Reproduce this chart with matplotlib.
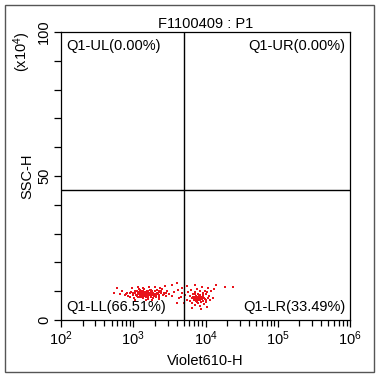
import matplotlib
matplotlib.use("Agg")
import matplotlib.pyplot as plt
from matplotlib.patches import Rectangle
from matplotlib.ticker import LogLocator, FixedLocator, NullFormatter, FixedFormatter

plt.rcParams['font.family'] = ['Liberation Sans', 'DejaVu Sans']
plt.rcParams['mathtext.fontset'] = 'custom'
plt.rcParams['mathtext.rm'] = 'Liberation Sans'
plt.rcParams['mathtext.it'] = 'Liberation Sans'

title = "F1100409 : P1"
x_label = "Violet610-H"
y_label = "SSC-H"
gate_x = 5000
gate_y = 45
quad_labels = ["Q1-UL(0.00%)", "Q1-UR(0.00%)", "Q1-LL(66.51%)", "Q1-LR(33.49%)"]

# Events: log10(Violet610-H), SSC-H (x10^4)
ll_logx = [2.88, 2.92, 2.95, 2.97, 3.00, 3.01, 3.03, 3.04, 3.05, 3.06,
           3.07, 3.08, 3.09, 3.10, 3.10, 3.11, 3.12, 3.13, 3.13, 3.14,
           3.15, 3.15, 3.16, 3.17, 3.17, 3.18, 3.19, 3.19, 3.20, 3.21,
           3.21, 3.22, 3.23, 3.23, 3.24, 3.25, 3.25, 3.26, 3.27, 3.28,
           3.28, 3.29, 3.30, 3.31, 3.32, 3.33, 3.34, 3.35, 3.36, 3.38,
           3.40, 3.41, 3.43, 3.45, 3.47, 3.50, 3.53, 3.56,
           2.82, 2.85, 2.98, 3.06, 3.14, 3.22, 3.30, 3.37, 3.44, 3.02, 3.18, 3.26, 3.35,
           3.12, 3.14, 3.16, 3.18, 3.20, 3.22, 3.24, 3.15, 3.19, 3.23, 3.27, 3.11, 3.17,
           2.90, 2.93, 2.96, 2.99, 3.02, 3.04, 3.07, 3.09, 3.11, 3.13, 3.16, 3.18, 3.20,
           3.24, 3.26, 3.29, 3.31, 3.33, 3.36, 3.39, 3.42, 3.46, 3.08, 3.12, 3.21, 3.25,
           3.05, 3.10, 3.15, 3.20, 3.25, 3.30, 3.00, 3.35, 3.14, 3.19,
           2.74, 2.78, 3.60, 3.62, 3.66, 3.54, 3.68]
ll_y = [8.6, 9.3, 8.1, 9.8, 8.9, 7.6, 9.5, 10.2, 8.4, 9.0,
        7.9, 9.7, 8.7, 10.4, 9.2, 8.2, 9.9, 8.8, 7.5, 9.4,
        10.8, 8.5, 9.1, 7.9, 9.7, 8.9, 10.1, 8.3, 9.5, 8.7,
        7.4, 9.2, 10.5, 8.6, 9.8, 8.1, 9.0, 10.0, 8.8, 9.4,
        7.7, 8.5, 9.9, 9.1, 8.3, 10.3, 8.9, 9.6, 8.0, 9.3,
        10.6, 8.7, 9.4, 8.2, 10.0, 9.0, 8.5, 9.7,
        9.0, 10.1, 11.2, 11.5, 11.0, 11.3, 11.6, 11.1, 11.8, 6.9, 6.8, 7.0, 7.2,
        9.0, 9.3, 8.7, 9.5, 9.0, 8.8, 9.2, 9.6, 9.1, 9.4, 8.9, 9.4, 8.6,
        9.0, 8.4, 9.5, 8.6, 10.0, 8.8, 9.3, 8.1, 10.0, 9.6, 8.2, 9.4, 10.2,
        8.4, 9.5, 9.0, 8.1, 9.4, 8.6, 9.9, 8.9, 9.3, 10.6, 8.0, 8.1, 10.4,
        9.9, 9.6, 9.8, 8.5, 9.6, 8.8, 9.4, 10.0, 10.1, 9.8,
        9.3, 11.0, 12.7, 10.4, 8.0, 12.2, 11.2]

lr_logx = [3.72, 3.74, 3.76, 3.78, 3.79, 3.80, 3.81, 3.82, 3.83, 3.84,
           3.85, 3.85, 3.86, 3.87, 3.87, 3.88, 3.89, 3.89, 3.90, 3.90,
           3.91, 3.92, 3.92, 3.93, 3.93, 3.94, 3.95, 3.95, 3.96, 3.97,
           3.97, 3.98, 3.99, 3.99, 4.00, 4.01, 4.02, 4.03, 4.04, 4.05,
           4.06, 4.08, 4.10, 4.12, 3.70, 3.68, 3.75, 3.86, 3.94, 3.82, 4.02,
           3.88, 3.90, 3.92, 3.86, 3.94, 3.91, 3.89,
           3.84, 3.87, 3.91, 3.95, 3.98, 3.83, 3.88, 3.93, 3.96, 3.85, 3.90, 4.00,
           4.15, 4.27, 4.38, 3.64, 3.60]
lr_y = [8.8, 7.1, 9.6, 6.5, 8.2, 10.4, 7.5, 5.8, 8.9, 6.9,
        9.8, 7.8, 5.2, 8.4, 6.6, 10.9, 7.3, 9.2, 5.9, 8.0,
        6.9, 9.9, 7.6, 4.8, 8.7, 6.3, 11.4, 7.9, 9.4, 6.7,
        8.3, 5.5, 10.2, 7.4, 8.9, 6.1, 9.6, 7.7, 11.0, 8.2,
        6.8, 9.9, 7.5, 10.6, 6.0, 9.5, 11.8, 12.3, 3.8, 4.2, 4.6,
        7.7, 7.9, 8.3, 8.0, 7.2, 8.6, 7.0,
        7.4, 7.0, 8.1, 7.3, 7.8, 8.0, 6.2, 6.9, 8.6, 9.0, 7.2, 7.0,
        12.1, 11.4, 11.6, 7.7, 5.8]

fig = plt.figure(figsize=(3.81, 3.75), dpi=100)
fig.patches.append(Rectangle((5/381, 3/375), 369/381, 367/375, transform=fig.transFigure,
                             fill=False, edgecolor='#555555', linewidth=1.0))

ax = fig.add_axes([61/381, 55/375, 289/381, 288/375])
xs = [10**v for v in ll_logx + lr_logx]
ys = ll_y + lr_y
ax.scatter(xs, ys, s=3, marker='s', color='#e8141c', linewidths=0)

ax.set_xscale('log')
ax.set_xlim(1e2, 1e6)
ax.set_ylim(0, 100)
ax.axvline(gate_x, color='black', linewidth=1.0)
ax.axhline(gate_y, color='black', linewidth=1.0)

ax.xaxis.set_major_locator(LogLocator(base=10, numticks=10))
ax.xaxis.set_minor_locator(LogLocator(base=10, subs=range(2, 10), numticks=10))
ax.xaxis.set_minor_formatter(NullFormatter())
ax.yaxis.set_major_locator(FixedLocator(list(range(0, 101, 10))))
ax.yaxis.set_major_formatter(FixedFormatter(['0', '', '', '', '', '50', '', '', '', '', '100']))

fs = 10.5
ax.tick_params(axis='both', which='major', direction='out', length=5, width=0.9, labelsize=fs, pad=2)
ax.tick_params(axis='x', which='minor', direction='out', length=4, width=0.9)
for lab in ax.get_yticklabels():
    lab.set_rotation(90)
    lab.set_va('center')
ax.tick_params(axis='y', pad=2)

for sp in ax.spines.values():
    sp.set_linewidth(0.9)

ax.set_xlabel(x_label, fontsize=fs, labelpad=4)
ax.set_ylabel(y_label, fontsize=fs, labelpad=2)
ax.set_title(title, fontsize=fs, pad=3)

fig.text(22/381, 1 - 52/375, "(x10$^4$)", rotation=90, ha='center', va='center', fontsize=fs)

ax.text(0.017, 0.975, quad_labels[0], transform=ax.transAxes, ha='left', va='top', fontsize=fs)
ax.text(0.985, 0.975, quad_labels[1], transform=ax.transAxes, ha='right', va='top', fontsize=fs)
ax.text(0.017, 0.02, quad_labels[2], transform=ax.transAxes, ha='left', va='bottom', fontsize=fs)
ax.text(0.985, 0.02, quad_labels[3], transform=ax.transAxes, ha='right', va='bottom', fontsize=fs)

fig.savefig("out.png", dpi=100)
